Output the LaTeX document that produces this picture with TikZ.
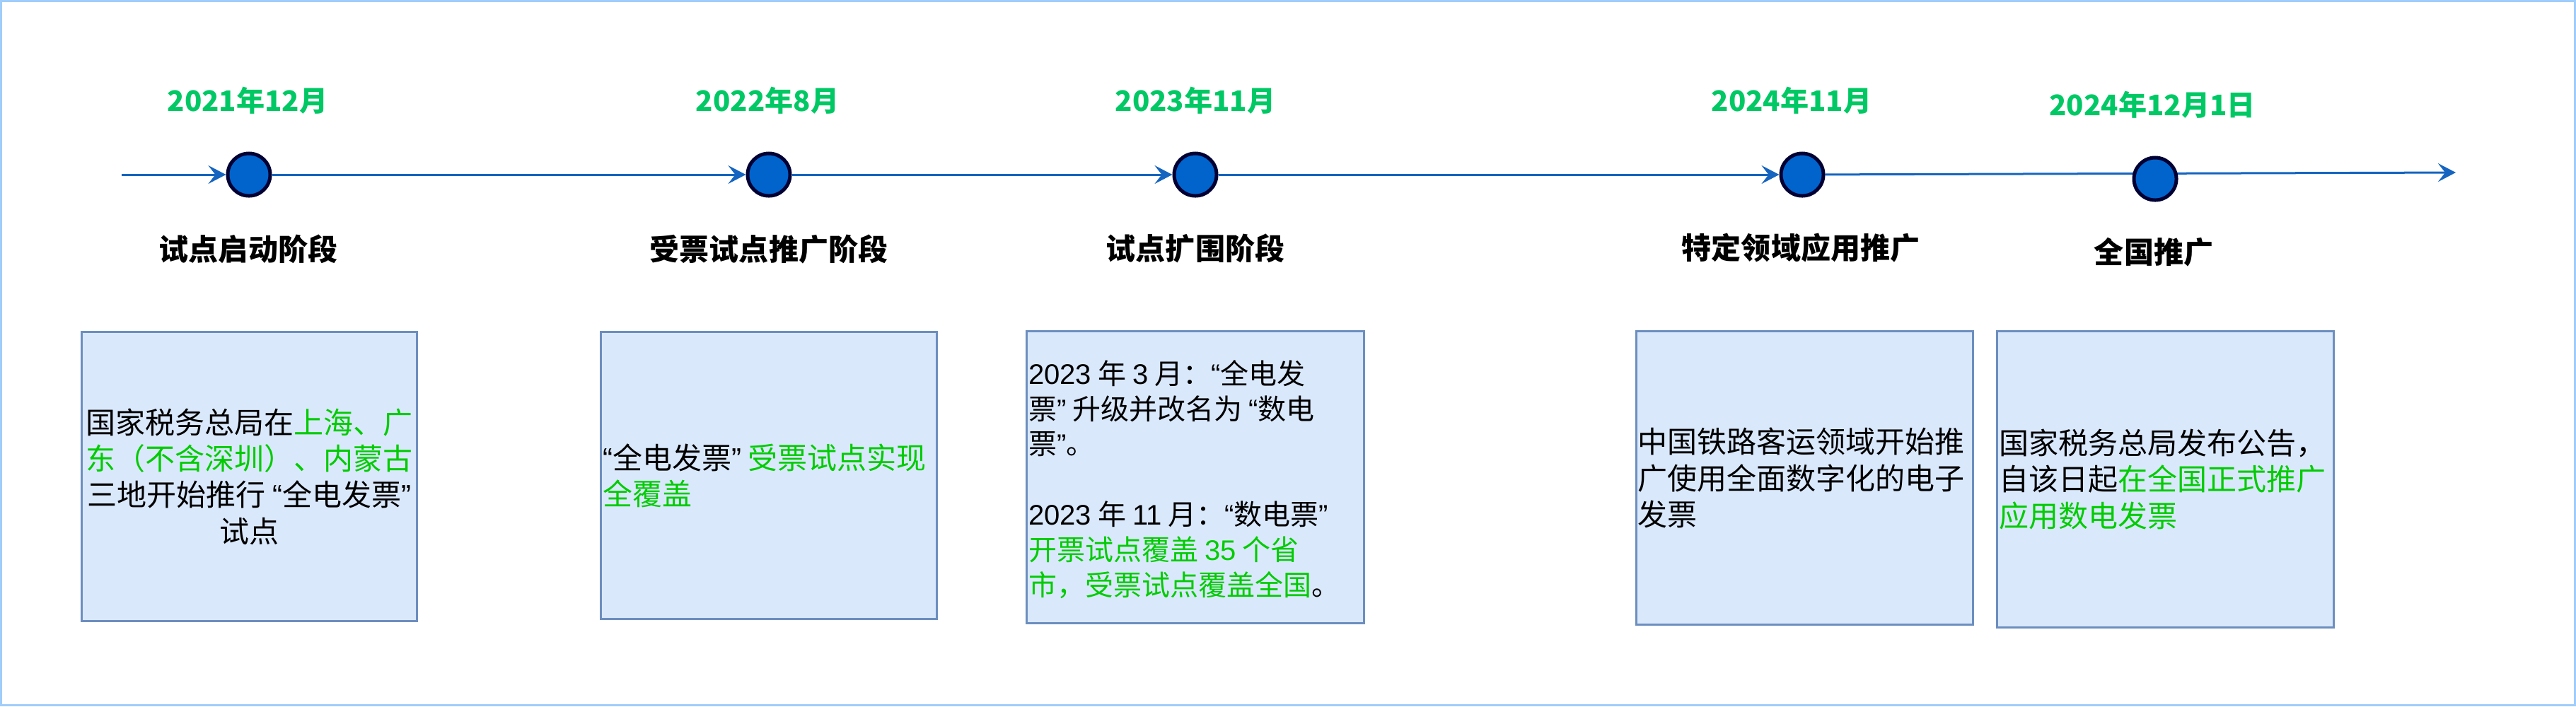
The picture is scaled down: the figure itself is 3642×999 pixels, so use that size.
\documentclass[tikz,border=0pt]{standalone}
\usepackage{fontspec}
\setmainfont{Noto Sans CJK SC}
\newfontfamily\qfont{Liberation Sans}
\usetikzlibrary{arrows.meta,backgrounds}
\definecolor{datecol}{RGB}{0,200,100}
\definecolor{greentxt}{RGB}{0,204,0}
\definecolor{tlcol}{RGB}{21,101,192}
\definecolor{dotfill}{RGB}{0,100,204}
\definecolor{dotborder}{RGB}{0,0,51}
\definecolor{boxfill}{HTML}{DAE8FC}
\definecolor{boxborder}{HTML}{6C8EBF}
\definecolor{outerborder}{RGB}{160,205,250}
\newcommand\gtxt[1]{\textcolor{greentxt}{#1}}
\newcommand\myoq{{\qfont “}}
\newcommand\mycq{{\qfont ”}}
\newcommand\lat[1]{{\qfont #1}}
\begin{document}
\begin{tikzpicture}[x=0.01cm,y=-0.01cm,
  dot/.style={circle, draw=dotborder, fill=dotfill, line width=0.05cm, minimum size=0.6cm, inner sep=0pt},
  datelbl/.style={text=datecol, font=\fontsize{11.4}{13}\selectfont\bfseries, inner sep=0pt},
  stagelbl/.style={text=black, font=\fontsize{11.95}{14}\selectfont\bfseries, inner sep=0pt},
  infobox/.style={draw=boxborder, fill=boxfill, line width=0.03cm, inner sep=0pt},
  infotext/.style={font=\fontsize{11.95}{14.6}\selectfont, inner sep=0pt},
  infotextb/.style={font=\fontsize{11.38}{14.2}\selectfont, inner sep=0pt},
  tl/.style={draw=tlcol, line width=0.03cm},
  tiparrow/.style={-{Stealth[length=0.25cm,width=0.26cm,inset=0.1cm]}}
]
\useasboundingbox (0,0) rectangle (3642,999);
\draw[outerborder, line width=0.03cm] (1.5,1.5) rectangle (3640.5,997.5);

% timeline dots
\node[dot] (c1) at (352,247) {};
\node[dot] (c2) at (1087,247) {};
\node[dot] (c3) at (1690,247) {};
\node[dot] (c4) at (2548,247) {};
\node[dot] (c5) at (3047,253) {};
\coordinate (tstart) at (172,247);
\coordinate (tend) at (3472,244);

\begin{scope}[on background layer]
\draw[tl, tiparrow] (tstart) -- (c1);
\draw[tl, tiparrow] (c1) -- (c2);
\draw[tl, tiparrow] (c2) -- (c3);
\draw[tl, tiparrow] (c3) -- (c4);
\draw[tl, tiparrow] (c4) -- (tend);
\end{scope}

% dates
\node[datelbl] (d1) at (350,142) {2021年12月};
\node[datelbl] (d2) at (1085,142) {2022年8月};
\node[datelbl] (d3) at (1690,142) {2023年11月};
\node[datelbl] (d4) at (2533,142) {2024年11月};
\node[datelbl] (d5) at (3043,148) {2024年12月1日};

% stage labels
\node[stagelbl] (l1) at (351,352) {试点启动阶段};
\node[stagelbl] (l2) at (1087,352) {受票试点推广阶段};
\node[stagelbl] (l3) at (1690,351) {试点扩围阶段};
\node[stagelbl] (l4) at (2546,351) {特定领域应用推广};
\node[stagelbl] (l5) at (3045,357) {全国推广};

% boxes
\node[infobox, minimum width=4.73cm, minimum height=4.08cm] (b1) at (352.5,674) {};
\node[infobox, minimum width=4.74cm, minimum height=4.05cm] (b2) at (1087,672.5) {};
\node[infobox, minimum width=4.76cm, minimum height=4.12cm] (b3) at (1690,675) {};
\node[infobox, minimum width=4.75cm, minimum height=4.14cm] (b4) at (2551.5,676) {};
\node[infobox, minimum width=4.75cm, minimum height=4.18cm] (b5) at (3061.5,678) {};

\node[infotext, align=center] (t1) at (b1.center)
  {国家税务总局在\gtxt{上海、广}\\\gtxt{东（不含深圳）、内蒙古}\\三地开始推行 \myoq 全电发票\mycq\\试点};
\node[infotext, align=left, anchor=west] (t2) at ([xshift=0.03cm]b2.west)
  {\myoq 全电发票\mycq\ \gtxt{受票试点实现}\\\gtxt{全覆盖}};
\node[infotextb, align=left, anchor=west] (t3) at ([xshift=0.03cm,yshift=-0.03cm]b3.west)
  {\lat{2023} 年 \lat{3} 月：\myoq 全电发\\票\mycq\ 升级并改名为 \myoq 数电\\票\mycq 。\\[14.2pt]\lat{2023} 年 \lat{11} 月：\myoq 数电票\mycq\\\gtxt{开票试点覆盖 \lat{35} 个省}\\\gtxt{市，受票试点覆盖全国}。};
\node[infotext, align=left, anchor=west] (t4) at ([xshift=0.02cm,yshift=0.0cm]b4.west)
  {中国铁路客运领域开始推\\广使用全面数字化的电子\\发票};
\node[infotext, align=left, anchor=west] (t5) at ([xshift=0.03cm,yshift=0.0cm]b5.west)
  {国家税务总局发布公告，\\自该日起\gtxt{在全国正式推广}\\\gtxt{应用数电发票}};
\end{tikzpicture}
\end{document}
